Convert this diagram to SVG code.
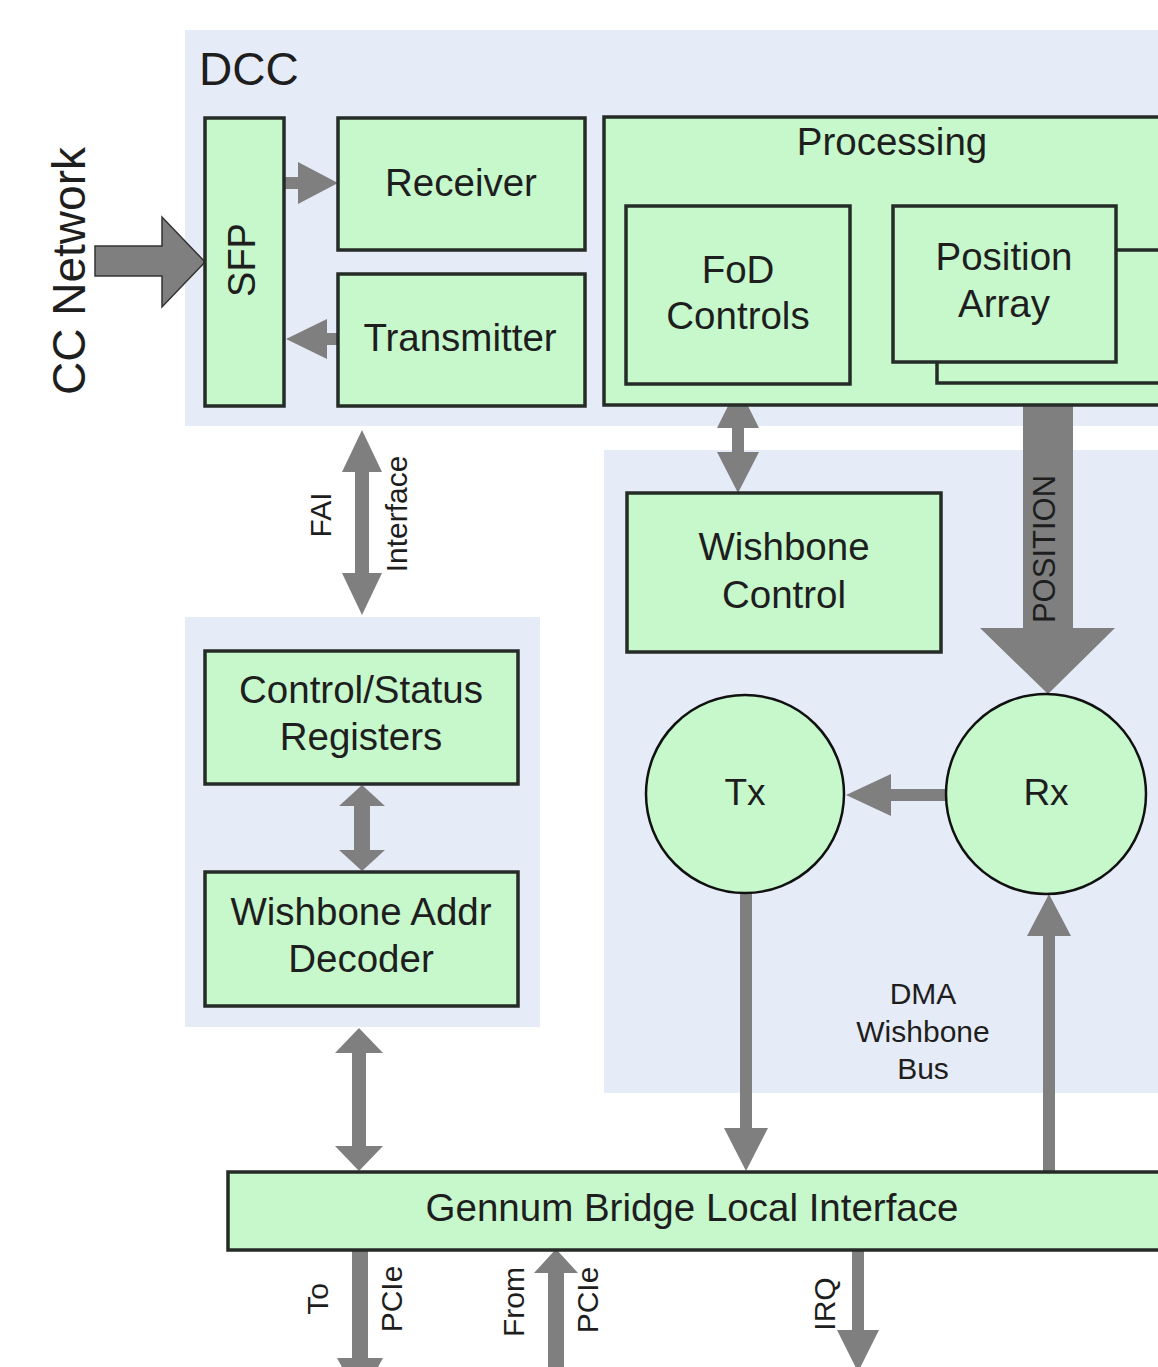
<svg xmlns="http://www.w3.org/2000/svg" width="1158" height="1367" viewBox="0 0 1158 1367">
<style>
.panel{fill:#e6ecf7}
.box{fill:#c6f8cc;stroke:#252b27;stroke-width:3.5}
.circ{fill:#c6f8cc;stroke:#111;stroke-width:2.5}
.arr{fill:#7f7f7f}
.t{font-family:"Liberation Sans",Arial,sans-serif;fill:#1e1e1e;text-anchor:middle}
.b{font-size:38.5px}
.s{font-size:30px}
</style>
<rect width="1158" height="1367" fill="#ffffff"/>
<g id="panels">
<rect class="panel" x="185" y="30" width="980" height="396"/>
<rect class="panel" x="604" y="450" width="560" height="643"/>
<rect class="panel" x="185" y="617" width="355" height="410"/>
</g>
<text class="t" x="199" y="85" font-size="46" style="text-anchor:start">DCC</text>
<text class="t" transform="translate(85,271) rotate(-90)" font-size="46">CC Network</text>

<g id="connectors">
<polygon points="95,246 162,246 162,217 205,262 162,307 162,276 95,276" fill="#7f7f7f" stroke="#333" stroke-width="1.5"/>
<polygon class="arr" points="284,177 298,177 298,162 338,183 298,204 298,189 284,189"/>
<polygon class="arr" points="338,333 327,333 327,319 286,339 327,359 327,345 338,345"/>
<polygon class="arr" points="738,386 759,428 744,428 744,452 759,452 738,493 717,452 732,452 732,428 717,428"/>
<polygon class="arr" points="1023,405 1073,405 1073,628 1115,628 1048,694 980,628 1023,628"/>
<polygon class="arr" points="946,789 891,789 891,774 846,795 891,816 891,801 946,801"/>
<polygon class="arr" points="740,893 752,893 752,1128 768,1128 746,1171 724,1128 740,1128"/>
<polygon class="arr" points="1043,1171 1055,1171 1055,936 1071,936 1049,894 1027,936 1043,936"/>
<polygon class="arr" points="362,430 382,472 369,472 369,573 382,573 362,615 342,573 355,573 355,472 342,472"/>
<polygon class="arr" points="362,785 385,806 370,806 370,850 385,850 362,871 339,850 354,850 354,806 339,806"/>
<polygon class="arr" points="359,1028 383,1053 366,1053 366,1146 383,1146 359,1171 335,1146 352,1146 352,1053 335,1053"/>
<polygon class="arr" points="352,1250 368,1250 368,1358 383,1358 360,1400 337,1358 352,1358"/>
<polygon class="arr" points="548,1370 564,1370 564,1273 578,1273 556,1249 534,1273 548,1273"/>
<polygon class="arr" points="852,1243 864,1243 864,1330 879,1330 858,1372 837,1330 852,1330"/>
</g>

<g id="sfp"><rect class="box" x="205" y="118" width="79" height="288"/>
<text class="t" transform="translate(255,260) rotate(-90)" font-size="38">SFP</text></g>
<g id="receiver"><rect class="box" x="338" y="118" width="247" height="132"/>
<text class="t b" x="461" y="196">Receiver</text></g>
<g id="transmitter"><rect class="box" x="338" y="274" width="247" height="132"/>
<text class="t b" x="460" y="351">Transmitter</text></g>

<g id="processing"><rect class="box" x="604" y="117" width="570" height="288"/>
<text class="t b" x="892" y="155">Processing</text></g>
<g id="fod"><rect class="box" x="626" y="206" width="224" height="178"/>
<text class="t b" x="738" y="283">FoD</text>
<text class="t b" x="738" y="329">Controls</text></g>
<g id="position-array"><rect class="box" x="937" y="250" width="240" height="133"/>
<rect class="box" x="893" y="206" width="223" height="156"/>
<text class="t b" x="1004" y="270">Position</text>
<text class="t b" x="1004" y="317">Array</text></g>

<g id="wishbone-control"><rect class="box" x="627" y="493" width="314" height="159"/>
<text class="t b" x="784" y="560">Wishbone</text>
<text class="t b" x="784" y="608">Control</text></g>

<text class="t" transform="translate(1055,549) rotate(-90)" font-size="31">POSITION</text>

<g id="tx"><circle class="circ" cx="745" cy="794" r="99"/>
<text class="t" x="745" y="805" font-size="37">Tx</text></g>
<g id="rx"><circle class="circ" cx="1046" cy="794" r="100"/>
<text class="t" x="1046" y="805" font-size="37">Rx</text></g>

<g id="csr"><rect class="box" x="205" y="651" width="313" height="133"/>
<text class="t b" x="361" y="703">Control/Status</text>
<text class="t b" x="361" y="750">Registers</text></g>
<g id="decoder"><rect class="box" x="205" y="872" width="313" height="134"/>
<text class="t b" x="361" y="925">Wishbone Addr</text>
<text class="t b" x="361" y="972">Decoder</text></g>

<g id="gennum"><rect class="box" x="228" y="1172" width="940" height="78"/>
<text class="t b" x="692" y="1221">Gennum Bridge Local Interface</text></g>

<g id="labels">
<text class="t s" x="923" y="1004">DMA</text>
<text class="t s" x="923" y="1042">Wishbone</text>
<text class="t s" x="923" y="1079">Bus</text>
<text class="t s" transform="translate(331,515) rotate(-90)">FAI</text>
<text class="t s" transform="translate(407,514) rotate(-90)">Interface</text>
<text class="t s" transform="translate(328,1299) rotate(-90)">To</text>
<text class="t s" transform="translate(402,1299) rotate(-90)">PCIe</text>
<text class="t s" transform="translate(524,1302) rotate(-90)">From</text>
<text class="t s" transform="translate(598,1300) rotate(-90)">PCIe</text>
<text class="t s" transform="translate(835,1304) rotate(-90)">IRQ</text>
</g>
</svg>
